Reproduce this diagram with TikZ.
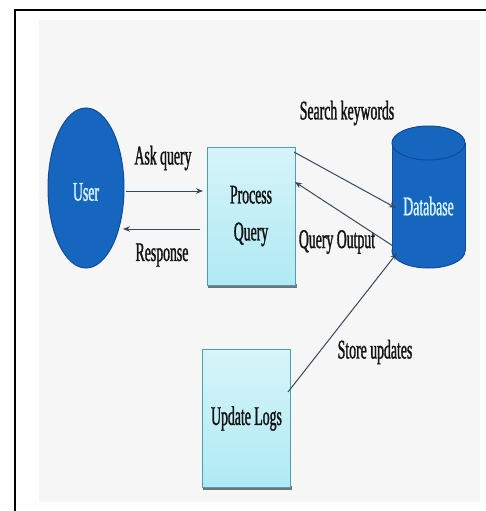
\documentclass[tikz,border=0pt]{standalone}
\usepackage{fontspec}
\setmainfont{Liberation Serif}[FakeStretch=0.51,FakeBold=1.2]
\usetikzlibrary{shapes.geometric,arrows.meta}

\definecolor{panelgray}{RGB}{246,246,246}
\definecolor{actorblue}{RGB}{22,102,192}
\definecolor{actoredge}{RGB}{14,76,150}
\definecolor{boxtop}{RGB}{214,244,249}
\definecolor{boxbottom}{RGB}{176,234,244}
\definecolor{boxedge}{RGB}{74,160,174}
\definecolor{flowline}{RGB}{52,74,92}
\definecolor{inktext}{RGB}{20,20,20}
\definecolor{paletext}{RGB}{214,242,250}

\tikzset{
  lbl/.style={font=\fontsize{27}{29}\selectfont, text=inktext, inner sep=0pt},
  procbox/.style={rectangle, draw=boxedge, line width=1pt, top color=boxtop,
    bottom color=boxbottom, minimum width=88pt, minimum height=138pt,
    font=\fontsize{27}{37}\selectfont, text=inktext, align=center},
  boxshadow/.style={fill=black!55, draw=none},
  flow/.style={draw=flowline, line width=1pt, -{Stealth[length=7pt,width=5.5pt]}},
}

\begin{document}
\begin{tikzpicture}[x=1pt,y=-1pt]
  \useasboundingbox (0,0) rectangle (486,511);
  % light panel and outer frame
  \fill[panelgray] (39,20) rectangle (480,502);
  \draw[line width=2.4pt, black] (15,511) -- (15,10) -- (486,10);

  % user
  \node[ellipse, fill=actorblue, draw=actoredge, line width=1pt,
        minimum width=76pt, minimum height=160pt, inner sep=0pt] (user) at (86,188) {};
  \node[font=\fontsize{27}{29}\selectfont, text=paletext, inner sep=0pt] at (86,192) {User};

  % processes with a soft shadow under each
  \fill[boxshadow] (208,284) rectangle (297,288);
  \node[procbox] (pq) at (251,216) {Process\\Query};
  \fill[boxshadow] (203,486) rectangle (292,490);
  \node[procbox] (ul) at (246.5,418.5) {Update Logs};

  % database cylinder
  \node[rectangle, draw=none, minimum width=73pt, minimum height=142pt] (db) at (428.5,197) {};
  \filldraw[fill=actorblue, draw=actoredge, line width=1pt]
    (428.5,251) ellipse [x radius=36.5, y radius=17];
  \fill[actorblue] (392,143) rectangle (465,251);
  \draw[actoredge, line width=1pt] (392,143) -- (392,251) (465,143) -- (465,251);
  \filldraw[fill=actorblue, draw=actoredge, line width=1pt]
    (428.5,143) ellipse [x radius=36.5, y radius=17];
  \node[font=\fontsize{27}{29}\selectfont, text=paletext, inner sep=0pt] at (428.5,206) {Database};

  % connector end points
  \coordinate (userR1) at (126,191);
  \coordinate (userR2) at (123,229);
  \coordinate (pqL1) at (203,191);
  \coordinate (pqL2) at (200,229);
  \coordinate (pqNE) at (294,152);
  \coordinate (pqE) at (295,182);
  \coordinate (dbW1) at (396,208);
  \coordinate (dbW2) at (393,246);
  \coordinate (dbW3) at (397,253);
  \coordinate (ulE) at (288,392);

  % data flows
  \draw[flow] (userR1) -- (pqL1);
  \draw[flow] (pqL2) -- (userR2);
  \draw[flow] (pqNE) -- (dbW1);
  \draw[flow] (dbW2) -- (pqE);
  \draw[flow] (ulE) -- (dbW3);

  % flow labels
  \node[lbl] at (163,158) {Ask query};
  \node[lbl] at (162,255) {Response};
  \node[lbl] at (347,113) {Search keywords};
  \node[lbl] at (337,242) {Query Output};
  \node[lbl] at (375,352) {Store updates};
\end{tikzpicture}
\end{document}
